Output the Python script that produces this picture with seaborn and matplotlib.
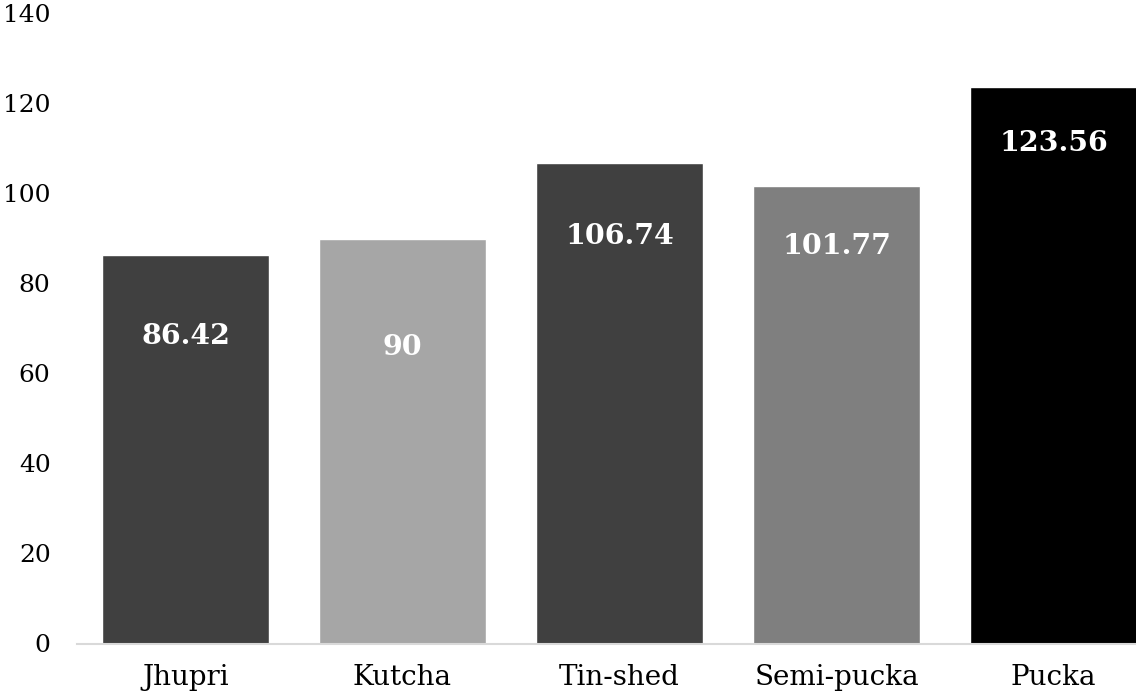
import matplotlib
matplotlib.use("Agg")
import matplotlib.pyplot as plt
import seaborn as sns
import pandas as pd

# Dwelling types and their values
categories = ["Jhupri", "Kutcha", "Tin-shed", "Semi-pucka", "Pucka"]
values = [86.42, 90, 106.74, 101.77, 123.56]
value_labels = ["86.42", "90", "106.74", "101.77", "123.56"]
bar_colors = ["#404040", "#a6a6a6", "#404040", "#7f7f7f", "#000000"]
# how far below each bar top its value label sits (data units)
label_depth = [18.3, 24.3, 16.4, 13.5, 12.4]
y_ticks = [0, 20, 40, 60, 80, 100, 120, 140]

sns.set_theme(style="white")
plt.rcParams["font.family"] = ["DejaVu Serif"]

df = pd.DataFrame({"type": categories, "value": values})

W, H = 1136, 695
fig = plt.figure(figsize=(W / 100, H / 100), dpi=100)
ax = fig.add_axes([77 / W, (H - 643.5) / H, 1085 / W, 630 / H])

sns.barplot(data=df, x="type", y="value", hue="type", palette=bar_colors,
            width=0.77, legend=False, saturation=1, ax=ax)

for i, (v, lab, d) in enumerate(zip(values, value_labels, label_depth)):
    ax.text(i, v - d, lab, ha="center", va="center", color="white",
            fontsize=20.5, fontweight="bold")

ax.set_xlim(-0.5, len(categories) - 0.5)
ax.set_ylim(0, 140)
ax.set_yticks(y_ticks)
ax.set_yticklabels([str(t) for t in y_ticks])
ax.set_xlabel("")
ax.set_ylabel("")
ax.tick_params(axis="both", length=0, colors="black")
ax.tick_params(axis="y", pad=19, labelsize=18)
ax.tick_params(axis="x", pad=15, labelsize=20)
for s in ["top", "right", "left"]:
    ax.spines[s].set_visible(False)
ax.spines["bottom"].set_color("#d9d9d9")
ax.spines["bottom"].set_linewidth(1.5)
ax.grid(False)

fig.savefig("out.png", dpi=100)
